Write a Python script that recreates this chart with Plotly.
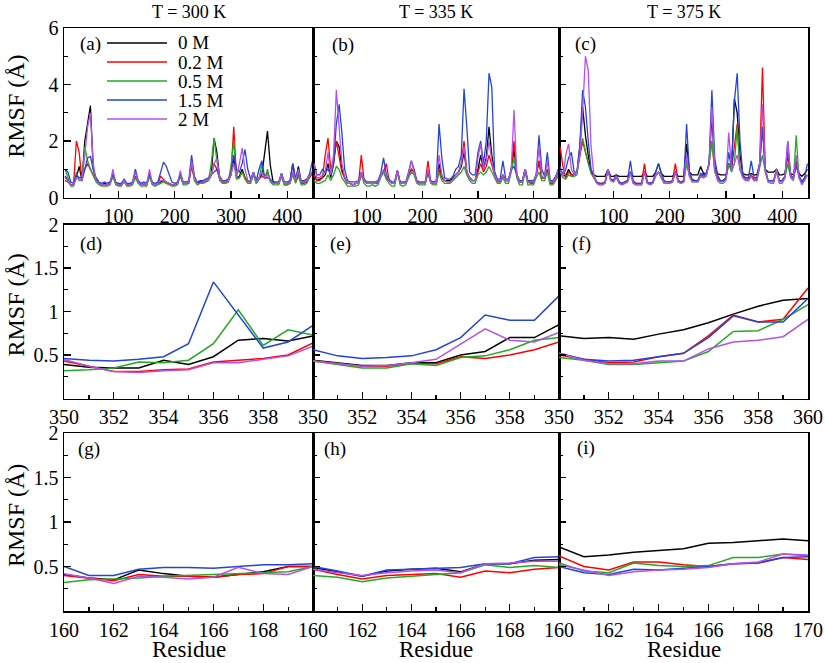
import plotly.graph_objects as go

# ---------------- data ----------------
concentrations = ["0 M", "0.2 M", "0.5 M", "1.5 M", "2 M"]
temperatures = ["T = 300 K", "T = 335 K", "T = 375 K"]
panel_tags = ["(a)", "(b)", "(c)", "(d)", "(e)", "(f)", "(g)", "(h)", "(i)"]

residues_full = list(range(5, 446, 5))
residues_350 = list(range(350, 361))
residues_160 = list(range(160, 171))

# --- full-length RMSF, T = 300 K
full300_0M = [0.75,0.6,0.45,0.45,0.7,1.1,0.6,2.0,2.65,3.25,
              1.0,0.65,0.5,0.45,0.5,0.45,0.55,0.8,0.5,0.45,
              0.45,0.6,0.45,0.45,0.5,0.75,0.55,0.45,0.5,0.45,
              0.8,0.5,0.45,0.5,0.55,0.6,0.55,0.5,0.45,0.45,
              0.5,0.8,0.5,0.5,0.55,1.2,0.7,0.5,0.55,0.55,
              0.6,0.65,0.8,2.1,1.6,0.7,0.55,0.55,0.6,0.8,
              1.4,0.7,0.75,1.0,0.7,0.6,0.6,0.9,0.55,0.7,
              0.8,1.6,2.35,1.15,0.55,0.5,0.5,0.85,0.5,0.5,
              0.55,1.2,0.6,1.1,0.55,0.55,0.6,0.8,0.9]
full300_02M = [0.6,0.55,0.45,0.45,2.0,1.6,0.6,1.0,1.2,1.0,
               0.8,0.6,0.5,0.45,0.45,0.45,0.5,0.8,0.5,0.45,
               0.45,0.6,0.45,0.45,0.5,0.75,0.55,0.45,0.45,0.45,
               0.8,0.5,0.45,0.5,0.75,0.65,0.5,0.5,0.45,0.45,
               0.5,0.8,0.5,0.5,0.5,1.1,0.65,0.5,0.5,0.5,
               0.55,0.6,0.8,1.2,1.0,0.65,0.55,0.5,0.55,0.8,
               2.5,0.7,0.7,0.9,0.7,0.55,0.55,0.85,0.5,0.65,
               0.75,0.7,0.9,0.6,0.5,0.5,0.5,0.8,0.45,0.45,
               0.5,0.85,0.55,0.8,0.5,0.5,0.55,0.7,0.85]
full300_05M = [1.0,0.7,0.4,0.4,0.9,0.6,0.6,1.8,1.3,1.0,
               0.75,0.55,0.45,0.4,0.4,0.4,0.45,0.75,0.45,0.4,
               0.4,0.55,0.4,0.4,0.45,0.7,0.5,0.4,0.4,0.4,
               0.75,0.45,0.4,0.45,0.5,0.55,0.5,0.45,0.4,0.4,
               0.45,0.75,0.45,0.45,0.5,1.3,0.6,0.45,0.5,0.5,
               0.55,0.6,1.2,2.1,1.3,0.6,0.5,0.5,0.55,1.1,
               2.0,0.65,0.7,0.9,0.65,0.5,0.5,0.8,0.5,0.65,
               1.2,0.65,1.0,0.55,0.45,0.45,0.45,0.75,0.45,0.45,
               0.5,0.8,0.5,0.75,0.45,0.45,0.5,0.75,0.85]
full300_15M = [1.0,0.9,0.55,0.5,0.8,0.7,0.7,1.0,1.4,1.45,
               1.0,0.7,0.55,0.5,0.55,0.5,0.55,0.85,0.55,0.5,
               0.5,0.65,0.5,0.5,0.55,1.0,0.6,0.5,0.55,0.5,
               0.85,0.55,0.5,0.55,0.9,1.25,1.1,0.8,0.55,0.5,
               0.55,0.85,0.55,0.55,0.6,1.5,0.75,0.55,0.6,0.6,
               0.65,0.7,0.8,0.9,1.0,0.75,0.6,0.6,0.65,0.85,
               1.5,1.0,0.9,1.2,1.7,1.0,0.65,0.9,0.6,1.0,
               1.3,0.7,0.7,0.65,0.55,0.55,0.55,0.85,0.55,0.55,
               0.6,1.2,0.65,0.9,0.6,0.6,0.65,0.85,1.3]
full300_2M = [0.7,0.6,0.45,0.45,0.7,0.65,0.6,1.5,2.5,3.0,
              1.2,0.6,0.5,0.45,0.45,0.45,0.5,1.0,0.5,0.45,
              0.45,0.6,0.45,0.45,0.5,0.9,0.55,0.45,0.5,0.45,
              1.0,0.5,0.45,0.5,0.6,0.6,0.55,0.5,0.45,0.45,
              0.5,0.95,0.5,0.5,0.55,1.3,0.7,0.5,0.5,0.55,
              0.6,0.65,0.8,1.2,1.4,0.7,0.55,0.55,0.6,0.8,
              1.2,0.7,1.2,1.75,1.0,0.6,0.6,0.9,0.55,0.7,
              0.9,0.7,0.8,0.6,0.5,0.5,0.5,0.85,0.5,0.5,
              0.55,0.9,0.6,1.0,0.55,0.55,0.6,0.8,0.9]

# --- full-length RMSF, T = 335 K
full335_0M = [0.8,0.6,0.65,0.7,0.8,1.2,0.7,1.2,2.0,1.8,
              1.0,0.7,0.5,0.5,0.45,0.5,0.5,0.8,0.6,0.5,
              0.5,0.5,0.5,0.55,0.8,0.9,0.7,0.6,0.5,0.5,
              0.95,0.5,0.5,0.5,0.8,1.0,0.9,0.55,0.5,0.5,
              0.5,0.9,0.55,0.5,0.5,1.2,0.7,0.6,0.6,0.6,
              0.7,0.8,0.9,1.1,1.6,0.9,0.7,0.6,0.6,1.0,
              1.5,1.0,1.4,2.5,1.5,0.9,0.6,0.6,0.8,0.6,
              0.6,1.0,1.7,0.8,0.55,0.55,1.0,0.55,0.55,0.55,
              0.8,1.3,0.7,0.7,1.0,0.55,0.55,0.7,1.0]
full335_02M = [0.8,0.6,0.6,0.7,1.5,2.1,1.0,1.3,2.0,1.4,
               0.9,0.7,0.5,0.5,0.45,0.5,0.5,1.5,0.6,0.5,
               0.5,0.5,0.5,0.5,0.8,0.9,1.2,0.6,0.5,0.5,
               0.95,0.5,0.5,0.5,0.8,1.0,0.9,0.55,0.5,0.5,
               0.5,1.3,0.55,0.5,0.5,1.0,0.7,0.6,0.55,0.55,
               0.65,0.8,0.9,1.2,2.0,0.9,0.7,0.6,0.6,0.9,
               1.2,0.9,1.1,1.5,1.1,0.8,0.55,0.55,0.8,0.6,
               0.6,1.0,2.0,0.8,0.55,0.55,1.0,0.55,0.5,0.5,
               0.8,1.3,0.7,0.7,1.0,0.5,0.5,0.7,0.9]
full335_05M = [0.6,0.5,0.5,0.55,0.6,0.8,0.6,0.8,1.1,1.0,
               0.7,0.55,0.4,0.4,0.4,0.4,0.45,0.8,0.5,0.4,
               0.4,0.45,0.4,0.45,0.7,0.9,0.65,0.5,0.4,0.4,
               0.9,0.45,0.4,0.45,0.7,0.9,0.8,0.5,0.45,0.45,
               0.45,0.9,0.5,0.45,0.45,0.9,0.6,0.5,0.5,0.5,
               0.6,0.7,0.8,0.9,1.1,0.8,0.6,0.5,0.5,0.8,
               0.9,0.8,0.9,1.1,0.9,0.7,0.5,0.5,0.7,0.5,
               0.5,0.9,1.4,0.7,0.45,0.45,0.9,0.45,0.45,0.45,
               0.7,0.9,0.6,0.6,0.9,0.45,0.45,0.6,0.8]
full335_15M = [1.2,0.8,0.8,1.0,0.9,1.0,0.8,1.2,2.6,3.3,
               2.3,1.0,0.6,0.55,0.55,0.55,0.6,0.9,0.65,0.55,
               0.55,0.55,0.55,0.6,0.85,1.4,0.8,0.65,0.55,0.55,
               0.95,0.55,0.55,0.55,0.9,1.3,1.0,0.6,0.55,0.55,
               0.55,0.9,0.6,0.55,0.6,2.6,1.4,0.7,0.65,0.65,
               0.75,1.0,1.1,1.5,3.85,2.5,0.9,0.8,0.8,1.6,
               2.0,1.2,2.0,4.4,3.9,0.9,0.65,0.65,1.3,0.65,
               0.65,1.0,1.1,0.8,0.6,0.6,1.0,0.6,0.6,0.6,
               0.8,2.2,1.0,0.75,1.6,0.6,0.6,0.75,1.0]
full335_2M = [1.2,0.7,0.7,0.8,0.9,1.6,0.8,1.5,3.8,2.5,
              1.2,0.75,0.5,0.5,0.45,0.5,0.5,0.9,0.6,0.5,
              0.5,0.5,0.5,0.55,0.8,1.0,0.75,0.6,0.5,0.5,
              0.95,0.5,0.5,0.5,0.85,1.3,0.9,0.55,0.5,0.5,
              0.5,1.0,0.55,0.5,0.5,1.5,0.8,0.6,0.55,0.55,
              0.65,0.8,0.9,1.2,1.8,0.9,0.7,0.6,0.6,1.4,
              1.9,1.0,1.3,2.0,1.3,0.8,0.6,0.6,0.8,0.6,
              0.6,1.0,3.1,0.8,0.55,0.55,1.0,0.55,0.55,0.55,
              0.8,1.8,0.75,0.7,1.3,0.55,0.55,0.7,1.0]

# --- full-length RMSF, T = 375 K
full375_0M = [0.9,0.8,0.75,1.0,0.8,0.8,0.9,1.8,3.2,2.2,
              1.5,0.9,0.8,0.75,0.75,0.75,0.75,1.0,0.75,0.75,
              0.8,0.75,0.75,0.75,0.75,0.9,0.75,0.75,0.75,0.75,
              0.9,0.75,0.75,0.75,0.9,1.2,0.85,0.75,0.75,0.75,
              0.75,0.9,0.75,0.75,0.75,1.9,0.9,0.8,0.8,0.8,
              1.1,0.85,0.85,1.2,2.9,1.1,0.85,0.8,0.8,0.8,
              1.2,1.0,3.5,3.0,1.5,0.85,0.8,0.8,0.85,0.8,
              0.8,1.2,2.5,1.0,0.9,0.9,0.9,1.0,0.8,0.8,
              0.85,1.5,0.85,0.8,1.3,0.85,0.75,0.85,1.0]
full375_02M = [1.8,1.1,0.7,0.9,0.8,0.8,0.9,1.4,2.0,1.6,
               1.2,0.9,0.7,0.55,0.5,0.5,0.55,1.0,0.65,0.6,
               0.8,0.55,0.5,0.55,0.6,0.9,0.55,0.5,0.5,0.5,
               1.2,0.55,0.5,0.55,0.8,0.9,0.7,0.55,0.55,0.55,
               0.6,1.2,0.6,0.55,0.6,1.3,0.8,0.6,0.6,0.6,
               0.8,0.75,0.8,1.2,2.0,1.0,0.7,0.6,0.6,0.7,
               1.2,1.0,1.8,2.6,1.0,0.75,0.65,0.65,0.8,0.65,
               0.65,1.2,4.6,1.0,0.6,0.6,0.6,1.0,0.6,0.6,
               0.75,1.6,0.75,0.65,1.2,0.7,0.55,0.7,0.8]
full375_05M = [0.9,0.7,0.65,0.8,0.75,0.75,0.8,1.6,2.1,1.6,
               1.2,0.85,0.7,0.5,0.45,0.45,0.5,0.95,0.6,0.55,
               0.7,0.5,0.45,0.5,0.55,0.85,0.5,0.45,0.45,0.45,
               0.9,0.5,0.45,0.5,0.75,0.9,0.7,0.5,0.5,0.5,
               0.55,0.9,0.55,0.5,0.55,1.2,0.75,0.55,0.55,0.55,
               0.75,0.7,0.75,1.2,2.0,0.9,0.65,0.55,0.55,0.65,
               1.2,0.9,1.2,2.5,1.0,0.7,0.6,0.6,0.75,0.6,
               0.6,1.1,1.5,0.9,0.55,0.55,0.55,0.9,0.55,0.55,
               0.7,1.2,0.7,0.6,2.2,0.7,0.5,0.65,0.8]
full375_15M = [1.1,0.8,1.0,1.4,1.6,0.9,0.9,1.8,3.8,3.2,
               2.0,1.0,0.8,0.55,0.5,0.5,0.55,1.0,0.65,0.6,
               0.8,0.55,0.5,0.55,0.6,1.3,0.6,0.5,0.5,0.5,
               0.9,0.55,0.5,0.55,0.9,1.2,0.85,0.6,0.55,0.55,
               0.6,0.9,0.6,0.55,0.6,2.6,0.9,0.65,0.6,0.6,
               0.85,0.8,0.85,1.2,3.8,1.4,0.8,0.6,0.6,0.7,
               1.6,1.0,3.4,4.4,2.0,0.8,0.7,0.7,1.3,0.7,
               0.7,1.2,2.5,1.0,0.6,0.6,0.6,1.0,0.6,0.6,
               0.75,2.0,0.8,0.7,1.1,0.8,0.55,0.7,1.2]
full375_2M = [1.0,0.7,1.5,1.9,1.0,0.8,0.9,1.5,3.0,5.0,
              4.5,1.8,0.8,0.5,0.45,0.45,0.5,1.0,0.6,0.55,
              0.75,0.5,0.45,0.5,0.55,0.9,0.5,0.45,0.45,0.45,
              0.9,0.5,0.45,0.5,0.8,0.9,0.7,0.5,0.5,0.5,
              0.55,0.9,0.55,0.5,0.55,1.5,0.75,0.55,0.55,0.55,
              0.75,0.7,0.8,1.2,3.2,1.0,0.6,0.5,0.5,0.6,
              2.3,1.0,1.2,1.5,1.0,0.7,0.6,0.6,0.75,0.6,
              0.6,1.2,3.3,1.0,0.55,0.5,0.5,1.0,0.5,0.5,
              0.7,2.0,0.75,0.6,1.5,0.7,0.45,0.6,0.8]

# --- residues 350-360
r350_300_0M  = [0.39,0.36,0.35,0.35,0.44,0.39,0.48,0.67,0.69,0.66,0.72]
r350_300_02M = [0.43,0.37,0.31,0.31,0.33,0.34,0.42,0.44,0.46,0.50,0.64]
r350_300_05M = [0.32,0.33,0.35,0.42,0.41,0.44,0.63,1.02,0.61,0.79,0.73]
r350_300_15M = [0.46,0.44,0.43,0.45,0.48,0.63,1.34,0.96,0.58,0.65,0.84]
r350_300_2M  = [0.45,0.37,0.31,0.30,0.32,0.33,0.41,0.41,0.45,0.49,0.60]

r350_335_0M  = [0.44,0.41,0.38,0.38,0.41,0.41,0.50,0.54,0.70,0.70,0.85]
r350_335_02M = [0.43,0.40,0.37,0.37,0.40,0.40,0.48,0.46,0.50,0.56,0.65]
r350_335_05M = [0.43,0.39,0.35,0.35,0.40,0.38,0.47,0.49,0.56,0.67,0.70]
r350_335_15M = [0.56,0.49,0.46,0.47,0.49,0.56,0.70,0.96,0.90,0.90,1.18]
r350_335_2M  = [0.43,0.40,0.37,0.38,0.41,0.45,0.63,0.80,0.67,0.65,0.76]

r350_375_0M  = [0.72,0.69,0.70,0.68,0.74,0.79,0.87,0.97,1.06,1.13,1.15]
r350_375_02M = [0.50,0.45,0.41,0.42,0.48,0.52,0.72,0.96,0.88,0.91,1.27]
r350_375_05M = [0.47,0.44,0.39,0.39,0.41,0.43,0.54,0.77,0.78,0.91,1.08]
r350_375_15M = [0.52,0.45,0.43,0.44,0.48,0.52,0.70,0.95,0.88,0.88,1.15]
r350_375_2M  = [0.52,0.44,0.40,0.40,0.43,0.43,0.57,0.65,0.67,0.71,0.91]

# --- residues 160-170
r160_300_0M  = [0.41,0.37,0.35,0.46,0.42,0.39,0.38,0.41,0.44,0.50,0.50]
r160_300_02M = [0.40,0.37,0.34,0.41,0.39,0.39,0.38,0.41,0.42,0.50,0.50]
r160_300_05M = [0.32,0.35,0.36,0.37,0.39,0.40,0.41,0.42,0.43,0.44,0.50]
r160_300_15M = [0.50,0.40,0.40,0.47,0.49,0.49,0.48,0.50,0.52,0.52,0.53]
r160_300_2M  = [0.42,0.37,0.31,0.39,0.38,0.36,0.38,0.49,0.42,0.41,0.50]

r160_335_0M  = [0.49,0.44,0.39,0.45,0.47,0.48,0.44,0.53,0.53,0.57,0.58]
r160_335_02M = [0.47,0.41,0.36,0.40,0.41,0.42,0.38,0.45,0.43,0.47,0.49]
r160_335_05M = [0.40,0.38,0.33,0.37,0.39,0.41,0.43,0.52,0.49,0.51,0.49]
r160_335_15M = [0.50,0.45,0.39,0.46,0.47,0.48,0.49,0.53,0.53,0.60,0.61]
r160_335_2M  = [0.47,0.43,0.40,0.43,0.45,0.46,0.43,0.53,0.54,0.56,0.56]

r160_375_0M  = [0.72,0.61,0.63,0.66,0.68,0.70,0.76,0.77,0.79,0.81,0.79]
r160_375_02M = [0.62,0.50,0.46,0.55,0.55,0.52,0.50,0.53,0.54,0.60,0.58]
r160_375_05M = [0.54,0.45,0.43,0.54,0.51,0.50,0.51,0.60,0.60,0.64,0.62]
r160_375_15M = [0.50,0.43,0.41,0.47,0.46,0.48,0.50,0.53,0.54,0.60,0.61]
r160_375_2M  = [0.52,0.46,0.40,0.44,0.46,0.47,0.49,0.53,0.55,0.64,0.63]

colors = ["#000000", "#ff0000", "#22aa22", "#2244dd", "#b650e8"]

panels = [
    (residues_full, [full300_0M, full300_02M, full300_05M, full300_15M, full300_2M]),
    (residues_full, [full335_0M, full335_02M, full335_05M, full335_15M, full335_2M]),
    (residues_full, [full375_0M, full375_02M, full375_05M, full375_15M, full375_2M]),
    (residues_350, [r350_300_0M, r350_300_02M, r350_300_05M, r350_300_15M, r350_300_2M]),
    (residues_350, [r350_335_0M, r350_335_02M, r350_335_05M, r350_335_15M, r350_335_2M]),
    (residues_350, [r350_375_0M, r350_375_02M, r350_375_05M, r350_375_15M, r350_375_2M]),
    (residues_160, [r160_300_0M, r160_300_02M, r160_300_05M, r160_300_15M, r160_300_2M]),
    (residues_160, [r160_335_0M, r160_335_02M, r160_335_05M, r160_335_15M, r160_335_2M]),
    (residues_160, [r160_375_0M, r160_375_02M, r160_375_05M, r160_375_15M, r160_375_2M]),
]

# ---------------- layout helpers ----------------
W, H = 825, 663
def fx(px):
    return px / W
def fy(py):
    return 1 - py / H

col_px = [(64, 313), (313, 559), (559, 808)]
row_px = [(28, 197.5), (224.5, 398.5), (433, 611)]

FONT = "Liberation Serif, Times New Roman, serif"

fig = go.Figure()

for p, (xs, series) in enumerate(panels):
    suffix = "" if p == 0 else str(p + 1)
    for k, ys in enumerate(series):
        fig.add_trace(go.Scatter(
            x=xs, y=ys, mode="lines", name=concentrations[k],
            line=dict(color=colors[k], width=1.3 if p < 3 else 1.5),
            xaxis="x" + suffix, yaxis="y" + suffix, showlegend=False,
            hoverinfo="skip",
        ))

axis_common = dict(
    showline=True, mirror=True, linecolor="black", linewidth=1.5,
    ticks="inside", ticklen=7, tickwidth=1.2, tickcolor="black",
    showgrid=False, zeroline=False, automargin=False,
    tickfont=dict(family=FONT, size=20, color="black"),
)

layout = {}
for p in range(9):
    r, c = divmod(p, 3)
    suffix = "" if p == 0 else str(p + 1)
    xd = [fx(col_px[c][0]), fx(col_px[c][1])]
    yd = [fy(row_px[r][1]), fy(row_px[r][0])]
    if r == 0:
        xa = dict(range=[3, 446], tickvals=[100, 200, 300, 400],
                  minor=dict(tickvals=[50, 150, 250, 350], ticks="inside",
                             ticklen=4, tickcolor="black"))
        ya = dict(range=[0, 6], tickvals=[0, 2, 4, 6],
                  minor=dict(tickvals=[1, 3, 5], ticks="inside", ticklen=4,
                             tickcolor="black"))
    elif r == 1:
        tv = [350, 352, 354, 356, 358] + ([360] if c == 2 else [])
        xa = dict(range=[350, 360], tickvals=tv,
                  minor=dict(tickvals=[351, 353, 355, 357, 359], ticks="inside",
                             ticklen=4, tickcolor="black"))
        ya = dict(range=[0, 2], tickvals=[0.5, 1, 1.5, 2],
                  ticktext=["0.5", "1", "1.5", "2"],
                  minor=dict(tickvals=[0.25, 0.75, 1.25, 1.75], ticks="inside",
                             ticklen=4, tickcolor="black"))
    else:
        tv = [160, 162, 164, 166, 168] + ([170] if c == 2 else [])
        xa = dict(range=[160, 170], tickvals=tv,
                  minor=dict(tickvals=[161, 163, 165, 167, 169], ticks="inside",
                             ticklen=4, tickcolor="black"))
        ya = dict(range=[0, 2], tickvals=[0.5, 1, 1.5, 2],
                  ticktext=["0.5", "1", "1.5", "2"],
                  minor=dict(tickvals=[0.25, 0.75, 1.25, 1.75], ticks="inside",
                             ticklen=4, tickcolor="black"))
    xa.update(axis_common)
    ya.update(axis_common)
    xa.update(domain=xd, anchor="y" + suffix)
    ya.update(domain=yd, anchor="x" + suffix, showticklabels=(c == 0))
    layout["xaxis" + suffix] = xa
    layout["yaxis" + suffix] = ya

def note(text, px, py, size, xanchor="center", angle=0):
    return dict(text=text, x=fx(px), y=fy(py), xref="paper", yref="paper",
                showarrow=False, xanchor=xanchor, yanchor="middle",
                textangle=angle, font=dict(family=FONT, size=size, color="black"))

annotations = []
# column titles
for c, t in enumerate(temperatures):
    annotations.append(note(t, (col_px[c][0] + col_px[c][1]) / 2, 12, 18))
# y titles
for r in range(3):
    annotations.append(note("RMSF (Å)", 16, (row_px[r][0] + row_px[r][1]) / 2 - 6, 24, angle=-90))
# x titles
for c in range(3):
    annotations.append(note("Residue", (col_px[c][0] + col_px[c][1]) / 2, 649, 23))
# panel tags
tag_pos = [(78, 44), (330, 45), (573, 44), (78, 244), (328, 244), (570, 244),
           (76, 449), (322, 449), (575, 448)]
for p, tag in enumerate(panel_tags):
    annotations.append(note(tag, tag_pos[p][0], tag_pos[p][1], 19, xanchor="left"))

# legend key inside panel (a)
shapes = []
for k, name in enumerate(concentrations):
    row_y = 43 + 19 * k
    shapes.append(dict(type="line", xref="paper", yref="paper",
                       x0=fx(107), x1=fx(167), y0=fy(row_y), y1=fy(row_y),
                       line=dict(color=colors[k], width=1.5)))
    annotations.append(note(name, 176, row_y, 19, xanchor="left"))

fig.update_layout(**layout)
fig.update_layout(
    template="none",
    width=W, height=H, margin=dict(l=0, r=0, t=0, b=0, pad=0),
    paper_bgcolor="white", plot_bgcolor="white",
    annotations=annotations, shapes=shapes, showlegend=False,
    font=dict(family=FONT, color="black"),
)

# let the figure fill the 825x663 window exactly (no default page margin)
fig.write_html("out.html",
               config={"displayModeBar": False, "staticPlot": True},
               post_script="document.body.style.margin='0px';")
